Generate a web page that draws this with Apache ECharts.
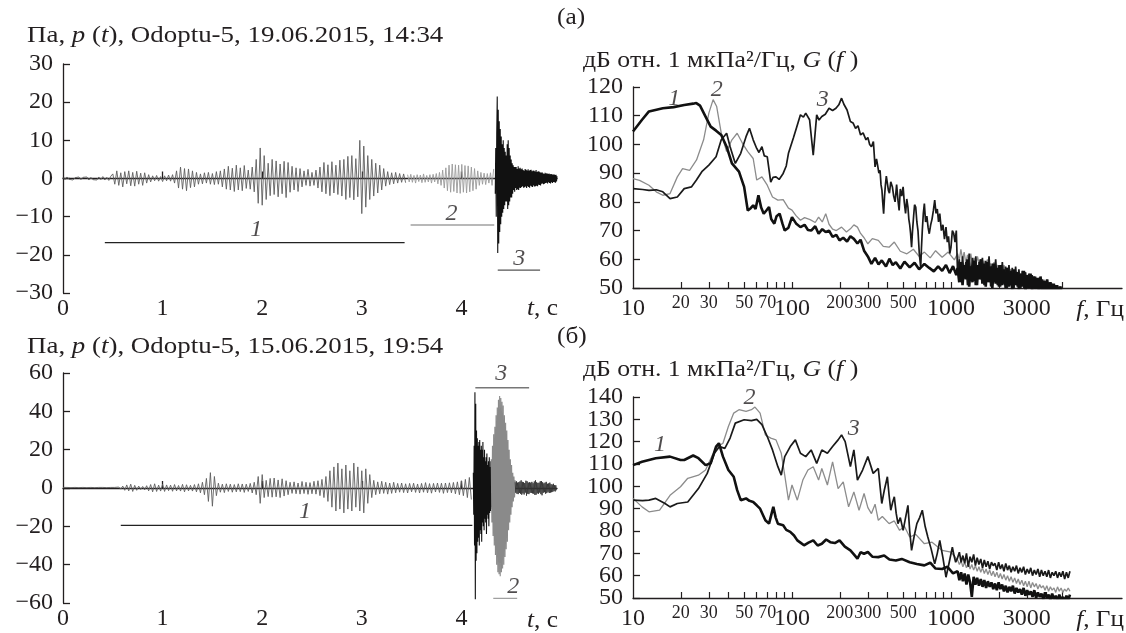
<!DOCTYPE html>
<html>
<head>
<meta charset="utf-8">
<script src="https://cdn.jsdelivr.net/npm/echarts@6/dist/echarts.min.js"></script>
<style>
html,body{margin:0;padding:0;background:#fff}
#chart{width:1126px;height:633px}
</style>
</head>
<body>
<div id="chart"></div>
<script>
// ---------- Waveforms p(t), Pa (sampled segments: start time, step, values) ----------
// (a) Odoptu-5, 19.06.2015, 14:34
const waveA1Start = 0, waveA1Step = 0.02;
const waveA1 = [
  0.3,-0.3,0.4,-0.2,0.3,-0.4,0.2,-0.3,0.4,-0.3,0.3,-0.2,0.4,-0.4,0.3,-0.3,0.2,-0.4,0.4,-0.3,0.5,-0.4,0.3,-0.5,0.6,
  1.2,-1.5,2.0,-1.8,1.5,-2.2,1.8,-1.4,2.0,-1.9,1.6,-2.0,1.9,-1.5,1.4,-1.8,1.5,-1.2,1.0,-0.9,
  0.7,-0.6,0.8,-0.7,0.5,-0.8,0.7,-0.6,0.9,-0.7,1.0,-1.2,
  2.0,-2.5,3.0,-2.8,2.6,-3.2,2.5,-2.4,2.0,-2.2,1.6,-1.5,1.2,
  -1.4,1.5,-1.2,1.6,-1.5,1.3,-1.6,1.8,-1.5,2.0,-2.2,
  2.5,-2.8,3.2,-3.0,2.7,-3.4,3.5,-3.0,2.8,-3.2,3.4,-2.6,2.2,-2.8,3.0,-3.5,
  5.0,-6.5,8.0,-7.0,6.0,-5.5,
  4.0,-4.5,5.0,-4.2,4.6,-4.8,3.8,-4.0,4.5,-5.0,4.2,-3.6,3.2,-3.0,2.8,-3.4,2.6,
  -2.2,2.0,-1.8,2.4,-2.0,1.6,-1.8,2.2,-2.5,
  3.0,-3.5,4.2,-4.0,3.6,-4.5,4.4,-3.8,3.5,-4.2,4.8,-4.6,5.0,
  -5.5,5.8,-5.0,6.0,-5.6,5.2,-4.8,
  10.0,-9.2,8.5,-7.5,
  6.0,-5.5,5.0,-4.6,4.0,-3.8,3.5,-3.0,2.6,
  -2.0,1.8,-1.6,1.5,-1.4,1.6,-1.2,1.3,-1.0,1.2,-1.1
];
const waveA2Start = 3.46, waveA2Step = 0.016;
const waveA2 = [
  1.0,-0.9,1.1,-1.0,0.8,-1.2,1.0,-0.8,0.9,-1.1,1.2,-1.0,0.8,-0.9,1.0,-1.2,1.1,-0.9,1.3,-1.4,1.6,-1.8,2.2,-2.5,
  2.8,-3.2,3.5,-3.6,3.8,-3.4,3.6,-3.8,3.5,-3.9,3.7,-3.6,3.4,-3.8,3.3,-3.5,3.0,-3.2,2.6,-2.8,
  2.0,-1.8,1.6,-1.5,1.4,-1.6,1.3,-1.2,1.5,-1.8,2.5
];
const waveA3Start = 4.34, waveA3Step = 0.005;
const waveA3 = [
  -4,8,-10,12,
  21.5,-19.5,18,-17,15,-14,13,-12,
  11,-10,9,-9,10,-8,8,-7,7,-6,6,-6,
  9,-8,10,-7,8,-6,6,-5,5,-5,4,-4,
  3.5,-3,3,-3.5,3,-2.5,3,-3,2.5,-2.8,3.2,-3,2.6,-2.4,2.8,-2.5,
  2.4,-2.2,2.6,-2.0,2.2,-2.4,2.0,-2.3,2.5,-2.1,2.3,-2.5,2.1,-2.0,2.4,-2.2,2.0,-2.4,2.2,-1.9,
  2.3,-2.1,1.9,-2.2,2.1,-1.8,2.0,-2.1,1.8,-2.0,2.2,-1.9,1.7,-2.0,1.9,-1.6,1.8,-1.7,1.6,-1.8,
  1.5,-1.4,1.6,-1.3,1.4,-1.5,1.2,-1.4,1.5,-1.2,1.3,-1.1,1.4,-1.3,1.2,-1.0,1.3,-1.2,1.1,-1.3,
  1.2,-1.0,1.1,-1.2,1.0,-0.9,1.1,-1.0,0.9,-1.1,1.0,-0.8,0.6
];
// (б) Odoptu-5, 15.06.2015, 19:54
const waveB1Start = 0, waveB1Step = 0.02;
const waveB1 = [
  0.3,-0.2,0.3,-0.3,0.2,-0.3,0.3,-0.2,0.2,-0.3,0.3,-0.3,0.2,-0.2,0.3,-0.3,0.2,-0.3,0.3,-0.2,0.3,-0.3,0.2,-0.3,0.3,-0.2,0.3,-0.4,0.5,-0.6,
  1.0,-1.2,1.6,-1.5,2.0,-1.8,1.4,-1.2,1.0,-0.8,0.8,-1.0,1.2,-1.5,1.8,-2.0,2.2,-1.8,1.5,-1.6,2.0,-1.8,1.6,-1.4,1.5,-1.7,1.8,-1.5,1.3,-1.6,1.9,-2.0,1.7,-1.5,1.4,-1.6,1.8,-2.0,2.2,-2.5,3.0,-3.5,
  5,-7,8,-9.5,6,-4,
  2.5,-2.2,2.0,-2.4,2.2,-1.8,2.0,-2.2,1.8,-2.0,2.2,-1.9,2.1,-2.3,2.0,-1.8,2.4,-2.6,3.0,-3.5,
  6,-8,7,-5,
  4,-4.5,5,-4.8,5.2,-4.6,4.2,-5,4.8,-4.2,3.8,-3.5,
  3,-2.8,3.2,-3.0,2.6,-3.2,3.4,-2.9,3.0,-3.3,2.8,-3.0,3.5,-3.2,3.8,-4.0,4.5,-5.0,6.0,-7.0,
  9,-10,11,-12,13,-11,10,-13,12,-11,9,-12,13,-10,11,-12,9,-13,10,-8,7,
  -5,4,-3.5,3.2,-3,3.5,-2.8,3,-3.2,2.6,-2.8,3,-2.5,2.4,
  -2.2,2.6,-2.4,2.2,-2.6,2.4,-2.0,2.5,-2.3,2.1,-2.6,2.4,-2.2,2.8,-2.5,2.3,-2.7,2.4,-2.1,2.6,
  -2.3,2.5,-2.8,2.6,-2.4,2.7,-2.5,2.9,-3.0,3.2,-3.5,3.8,-4.0,4.5,-5.0,5.5,-6.0
];
const waveB2Start = 4.12, waveB2Step = 0.004;
const waveB2 = [
  8,-14,22,-30,50,-58,44,-38,30,-34,26,-28,22,-26,24,
  -30,25,-22,20,-24,22,-28,20,-18,24,-20,16,-22,20,-16,14,-18,16,-24,18,
  -14,12,-16,14,-20,16,-13,11,-12,14,-10,9,-11,10,-8,9,-10,12,-14,16
];
const waveB3Start = 4.30, waveB3Step = 0.006;
const waveB3 = [
  15,-18,22,-25,28,-30,32,-35,38,-40,
  42,-44,46,-45,48,-46,47,-44,45,-42,43,-40,38,-36,34,-32,30,
  -28,25,-22,20,-18,15,-14,12,-10,8,-7,6,-5,4
];
const waveB4Start = 4.54, waveB4Step = 0.006;
const waveB4 = [
  3,-2.5,3.5,-3,2.8,-3.2,3,-2.6,3.4,-3,
  4,-3.5,3.2,-2.8,3,-3.4,2.6,-2.4,3.8,-4,
  3.5,-3,2.8,-3.2,3,-2.5,2.8,-2.6,3.2,-2.8,
  2.5,-3,3.4,-3.6,4,-3.5,3,-2.8,2.6,-3,
  2.8,-2.4,3.5,-3.2,3.6,-3.8,3,-2.5,2.4,-2.2,
  2.8,-3,3.2,-2.6,2.2,-2,2.4,-2.6,2.8,-2.4,
  2,-2.2,1.8,-2,2.2,-1.6,1.5,-1.8,1.4,-1.2
];

// Analysis intervals: [t start, t end, level], and their numbers: [text, t, level]
const intervalsA = [[0.42, 3.43, -16.8], [3.49, 4.33, -12.2], [4.365, 4.79, -24.0]];
const intervalLabelsA = [['1', 1.94, -13.4], ['2', 3.90, -9.2], ['3', 4.58, -21.0]];
const intervalsB = [[0.58, 4.11, -19.5], [4.32, 4.56, -57.6], [4.14, 4.68, 52.3]];
const intervalLabelsB = [['1', 2.43, -12.5], ['2', 4.52, -51.5], ['3', 4.40, 59.8]];

// ---------- Spectra G(f), dB re 1 µPa²/Hz ----------
// Low-frequency part: [f, dB]
const specA1 = [[10,104.5],[11.4,108.6],[12.6,111.5],[15.4,112.6],[18,113],[21,113.7],[23.9,114.2],[25,114.4],[26.4,113.5],[28.6,109.7],[30.8,106.2],[33.3,104.8],[35.9,103.3],[38.8,99.2],[41.9,93.4],[46.4,90.5],[50,85.2],[52.7,77],[55,77.8],[57,78.8],[59,77.5],[61.5,82.3],[64,78],[66.4,75.9],[69,77],[71.7,78.2],[74,74],[77.4,72.4],[80,75],[83.6,75.9],[87,72.5],[90,70],[95,71],[100,74.7],[106,72.5],[113,71.2],[120,72],[126,70.2],[132,70],[140,71.5],[147,68.9],[155,70.5],[163,69.5],[171,70],[180,67.8],[190,68.5],[199,66.6],[210,67.5],[222,66.2],[233,68],[245,67.1],[258,65.5],[270,66.8],[284,63],[300,61],[316,58.4],[333,60.5],[350,58.2],[367,59.6],[390,57.5],[410,60.2],[430,58],[450,59],[480,56.8],[510,59.2],[550,57.2],[590,58.8],[630,56.5],[680,58.4],[730,57],[780,55.8],[830,57.5],[880,56],[930,58],[980,55.2],[1030,57.6],[1080,54.5]];
const specA2 = [[10,88.1],[11,87.5],[12.6,85.8],[14,83.5],[15.4,82.3],[17.1,82.9],[19,88.7],[20.5,91.6],[22.7,91],[25.1,94.6],[27.8,101.6],[30,110.9],[31.9,115.6],[33.6,113.2],[35.9,103.9],[38.8,97.5],[41.9,101.6],[45.2,103.9],[48.8,100.4],[52.7,97.5],[57,95.1],[60,87.6],[64.7,88.7],[69.9,85.8],[75.4,81.7],[81.5,80.6],[88,80.8],[95,77.8],[100,77.1],[106,75.2],[113,73.6],[120,74.5],[130,73.8],[140,72.8],[147,74.7],[155,73],[163,75.9],[171,72.2],[180,70.5],[190,70],[205,71.2],[220,69.5],[233,70.6],[245,72],[258,71.2],[270,69],[284,67.5],[300,65.4],[320,67.2],[349,66.6],[375,64.5],[408,64.2],[440,66],[480,62.8],[528,61.9],[580,63.5],[630,61],[680,62.5],[740,60.5],[800,63],[880,60.7],[960,62.5],[1050,59.8]];
const specA3 = [[10,84.6],[11.5,84.3],[12.6,84],[14,84.2],[15.4,83.5],[17.1,81.1],[19,81.7],[21,84.6],[23.3,85.2],[25,87.5],[27.1,90.5],[30,92.8],[33.3,95.7],[35.9,101.6],[38.8,103.9],[40.8,99.2],[44,93.4],[47.6,96.9],[51.4,102.7],[54,105.6],[57,101.6],[60,98.6],[62,97.2],[64.7,99.2],[67,96],[69.9,95.7],[73.5,86.9],[76,88.5],[79.3,88.7],[83,87.8],[88,89.9],[92,92.5],[95,96.9],[102,102.2],[107,106],[113,110.3],[118,109.5],[122,110.9],[129,108.6],[136,96.3],[143,110.3],[148,108.5],[154,109.7],[162,110.5],[171,112.6],[180,111.8],[189,112.6],[197,113.8],[205,116.1],[212,114],[222,112],[233,108],[242,107.5],[251,105.6],[260,106.5],[270,103.3],[280,104],[292,101.6],[300,102.4],[308,100],[316,99.2],[325,101],[333,92.2],[340,95],[345,93],[352,90],[358,91],[363,86],[368,84],[372,80],[377,75.9],[382,82],[387,86],[392,89],[398,88.7],[404,84],[410,83],[418,87],[428,85.2],[436,82],[445,80],[455,86],[464,80.6],[472,77],[480,84.5],[490,82],[500,85.2],[508,80],[518,76],[527,81],[536,78.2],[543,74],[550,72],[557,69],[565,64.2],[573,70],[582,75],[590,79],[600,78.2],[610,73],[620,70],[632,62],[645,57.2],[652,64],[660,70],[670,76],[680,79.4],[692,73],[705,75],[718,71],[730,68.9],[745,72],[760,74],[775,77],[790,80.6],[805,76],[820,77.5],[835,73],[850,75.9],[870,70],[890,72],[910,67],[930,71.2],[948,66],[965,68],[983,62],[1000,64.2],[1020,70],[1040,69],[1060,66],[1080,70]];
const specB1 = [[10,109.5],[11.4,111],[13.9,112.6],[17.1,113.3],[19.9,111.8],[21,111.8],[23.9,113.8],[25.8,112.6],[28.6,109.5],[30.8,110.3],[33.3,117.8],[34.7,119.3],[36.8,113.3],[39.8,107.3],[43,104.3],[45.2,98.3],[47.6,93.8],[51.4,94.6],[54,93.5],[57,93],[60,91.5],[63,90],[68,84.8],[71.7,83.3],[76.3,90.8],[79,86],[81.5,83.3],[88,82.6],[92,80.5],[97.5,79.6],[103,78],[108,75.8],[113,74.8],[119,73.6],[127,74.8],[136,75.8],[145,73.5],[154,74.3],[164,76.2],[174,75],[186,74.6],[199,75.8],[215,73],[233,71.3],[245,69.5],[258,67.6],[270,70.5],[284,69.8],[300,70.6],[320,68.5],[349,68.3],[380,69],[410,67.2],[450,66.8],[490,67.5],[550,66],[610,65.2],[680,64.6],[740,65.8],[800,63.2],[880,63],[950,64],[1030,61]];
const specB2 = [[10,94.6],[11.4,90.8],[12.6,88.6],[14.7,89.3],[17.1,96],[19.9,99.8],[22.1,103.6],[25.8,105],[28.6,107.3],[31.6,114],[34.1,117.8],[36.8,119.3],[39.8,126.8],[43,132.8],[46.4,134.3],[51.4,133.6],[55.6,134.3],[58.5,135.5],[63,132.8],[68,123],[73.5,121.6],[79.3,120.8],[85.6,114.8],[90,105],[95,93.8],[100,100.6],[108,93.8],[117,102.8],[126,107.3],[136,108.8],[147,102.8],[154,108],[167,100.6],[180,111],[195,99],[210,102],[227,90.8],[245,97.5],[264,89.3],[284,96.8],[300,90.5],[316,87.8],[333,92],[349,84.8],[370,86.5],[408,83.3],[440,84.5],[475,80.3],[510,82],[550,77.3],[600,78.5],[680,74.3],[760,75],[880,71.3],[1000,70.5]];
const specB3 = [[10,93.8],[11.5,93.6],[12.6,93.8],[13.9,94.6],[15.9,92.3],[17.1,90.8],[19,92.3],[22.1,93],[25.8,99],[29.3,105.8],[32.5,114.8],[35,117.8],[37.8,117],[40.8,121.6],[44,128.3],[50,129.8],[55.6,129.4],[60,130],[64.7,127.6],[69.9,122.3],[75.4,116.3],[81.5,108.8],[85.6,105],[90,113.3],[97.5,117.8],[105,120.8],[113,114.8],[122,113.3],[132,116.3],[143,110.3],[154,116.3],[167,114.8],[180,117.8],[195,120.8],[205,123],[216,120],[233,108.8],[245,116.3],[258,102.8],[278,107.3],[300,113.3],[324,105.8],[349,108],[358,100],[367,92.3],[380,98],[398,104.3],[408,96],[418,89.3],[430,93],[440,95.3],[452,88],[464,83.3],[480,86],[500,80.3],[518,86],[536,91.5],[550,80],[565,71.3],[588,78],[610,83.3],[635,86],[660,89.3],[688,82],[715,77.3],[750,72],[790,65.3],[820,70],[850,75.8],[890,68],[930,59.3],[975,66],[1020,72.8],[1045,69],[1070,66]];

// High-frequency part: frequency bins and dB values per curve
const hfFreqA = [1100,1127,1154,1182,1210,1240,1270,1301,1332,1365,1398,1432,1467,1502,1539,1576,1614,1654,1694,1735,1777,1820,1865,1910,1956,2004,2053,2103,2154,2206,2260,2315,2371,2429,2488,2549,2611,2674,2739,2806,2874,2944,3016,3089,3164,3241,3320,3401,3484,3569,3655,3744,3835,3929,4024,4122,4223,4325,4431,4538,4649,4762,4878,4997];
const hfA1 = [57,52,59,51,58,53,60,50.5,57.5,52,59.5,51,58,53, 60,51.5,58.5,50.5,59,52,57.5,50,58.5,51.5,57,50.5,58,51,56.5,50, 57,50.5,56,49.5,56.5,51,55.5,49.5,55,50.5,56,49,54.5,50,55,49, 54,49.5,53.5,48.5,54,49,52.5,48,53,48.5,52,47.5,51.5,48,51,47,50.5,47];
const hfA2 = [62,59.5,63.5,60,62.5,58.5,61.5,59,62,58,60.5,57.5,61,58.5, 60,57,59.5,56.5,60,57,58.5,56,59,55.5,58,56,57.5,55,58,55.5, 57,54.5,56.5,55,56,53.5,55.5,54,55,53,55.5,52.5,54.5,53,54,52, 53.5,51.5,53,52,52.5,51,53,50.5,52,51,51.5,50,51,50.5,50.5,49.5,50.5,49];
const hfA3 = [55,60,52,61,54,59,51,62,53,60.5,52.5,61,51,59, 53,60.5,51,59.5,52,61,50.5,58.5,52,60,51,58,50.5,59,51.5,57.5, 50,58,51,57,49.5,57.5,50.5,56.5,49,56,50,55.5,49,55,49.5,54.5, 48.5,54,49,53.5,48,53,48.5,52.5,47.5,52,48,51.5,47.5,51,47,50.5,47,49];
const hfFreqB = [1100,1129,1158,1188,1219,1251,1284,1318,1352,1388,1424,1461,1499,1539,1579,1620,1663,1706,1751,1797,1844,1892,1942,1993,2045,2098,2153,2210,2268,2327,2388,2451,2515,2581,2648,2718,2789,2862,2937,3014,3093,3174,3257,3342,3430,3520,3612,3706,3803,3903,4005,4110,4218,4328,4442,4558,4677,4800,4925,5054,5187,5322,5462,5600];
const hfB1 = [62,58,61.5,57.5,61,56,60.5,57,50.5,59.5,56,59,55.5,58.5,55,58, 54.5,57.5,55,57,54,56.5,53.5,57,54,56,53,55.5,52.5,55,53,55.5, 52,54.5,52.5,54,51.5,54.5,51,53.5,51.5,53,50.5,53.5,50,52.5,50.5,52, 49.5,52.5,50,51.5,49,52,49.5,51,48.5,51.5,49,50.5,48.5,51,49,51.5];
const hfB2 = [67,65,66.5,64,66,63.5,65.5,63,65,62.5,64.5,62,64,61.5,63.5,61, 63,60.5,62.5,60,62,59.5,61.5,59,61,58.5,60.5,58,60,57.5,59.5,57, 59,56.5,58.5,56,58,55.5,57.5,55,57.5,54.5,57,55,56.5,54,56,54.5, 55.5,53.5,55.5,53,55,53.5,54.5,52.5,55,53,54.5,52.5,54,53,54.5,53];
const hfB3 = [68,70.5,66,69,65.5,70,64,68.5,66,69.5,64.5,68,65,67.5,63.5,67, 64,66.5,63,66,64.5,65.5,62.5,66,63,65,62,65.5,62.5,64.5,61.5,64, 62,64.5,61,63.5,61.5,64,60.5,63,61,63.5,60,62.5,60.5,63,59.5,62.5, 60,62,59.5,62.5,59,61.5,60,62,59,61.5,59.5,62,58.5,61.5,59,62];

const specLabelsA = [['1', 18.2, 116.1], ['2', 33.6, 119.0], ['3', 156, 115.6]];
const specLabelsB = [['1', 14.8, 118.5], ['2', 54, 139.5], ['3', 245, 126.0]];

// ---------- Axis ticks and labels ----------
const timeLabels = [0, 1, 2, 3, 4];
const timeTicks = [1, 2, 3, 4];
const freqMajorLabels = [10, 100, 1000, 3000];
const freqMinorLabels = [20, 30, 50, 70, 200, 300, 500];
const freqTicks = [20, 30, 40, 50, 60, 70, 80, 90, 100, 200, 300, 400, 500, 600, 700, 800, 900, 1000, 2000, 3000, 4000, 5000];
// level labels of spectrum (б), split in two interleaved sets
const levelLabelsB1 = [50, 70, 90, 110, 130];
const levelLabelsB2 = [60, 80, 100, 120, 140];

const titleA = 'Odoptu-5, 19.06.2015, 14:34';
const titleB = 'Odoptu-5, 15.06.2015, 19:54';

// ---------- Drawing ----------
const FONT = 'Liberation Serif';
const INK = '#231f20';
const chart = echarts.init(document.getElementById('chart'), null, { renderer: 'canvas' });

function wave(start, step, vals) {
  return vals.map((v, i) => [+(start + i * step).toFixed(4), v]);
}
function withHigh(low, freqs, vals) {
  return low.concat(vals.map((v, i) => [freqs[i], v]));
}
const minus = v => String(v).replace('-', '\u2212');

function timeAxis(gridIndex) {
  return {
    type: 'value', gridIndex, min: 0, max: 4.96,
    axisLine: { lineStyle: { color: INK, width: 1.3 } },
    axisTick: { inside: true, length: 7, customValues: timeTicks, lineStyle: { color: INK, width: 1.3 } },
    axisLabel: { customValues: timeLabels, margin: 4, color: INK, fontFamily: FONT, fontSize: 24, hideOverlap: false },
    splitLine: { show: false }
  };
}
function freqAxis(gridIndex) {
  return {
    type: 'log', logBase: 10, gridIndex, min: 10, max: 11900, position: 'bottom',
    axisLine: { lineStyle: { color: INK, width: 1.3 } },
    axisTick: { inside: true, length: 6, customValues: freqTicks, lineStyle: { color: INK, width: 1.2 } },
    axisLabel: { customValues: freqMajorLabels, margin: 9, color: INK, fontFamily: FONT, fontSize: 24,
      formatter: v => String(v), hideOverlap: false },
    splitLine: { show: false }, minorTick: { show: false }
  };
}
function freqMinorAxis(gridIndex) {
  return {
    type: 'log', logBase: 10, gridIndex, min: 10, max: 11900, position: 'bottom', offset: 0,
    axisLine: { show: false }, axisTick: { show: false },
    axisLabel: { customValues: freqMinorLabels, margin: 6, color: INK, fontFamily: FONT, fontSize: 18,
      formatter: v => String(v), hideOverlap: false },
    splitLine: { show: false }
  };
}
function valAxis(gridIndex, min, max, interval, labels) {
  const label = { margin: 10, color: INK, fontFamily: FONT, fontSize: 24, formatter: minus, hideOverlap: false };
  if (labels) label.customValues = labels;
  return {
    type: 'value', gridIndex, min, max, interval,
    axisLine: { show: true, lineStyle: { color: INK, width: 1.3 } },
    axisTick: { show: true, inside: true, length: 7, lineStyle: { color: INK, width: 1.3 } },
    axisLabel: label,
    splitLine: { show: false }
  };
}
function labelOnlyAxis(gridIndex, min, max, labels) {
  return {
    type: 'value', gridIndex, min, max, position: 'left', offset: 0,
    axisLine: { show: false }, axisTick: { show: false },
    axisLabel: { customValues: labels, margin: 10, color: INK, fontFamily: FONT, fontSize: 24, hideOverlap: false },
    splitLine: { show: false }
  };
}
function line(xi, yi, data, color, width) {
  return {
    type: 'line', xAxisIndex: xi, yAxisIndex: yi, data, symbol: 'none', showSymbol: false,
    lineStyle: { color, width }, clip: true, animation: false, silent: true, z: 2
  };
}
function numberLabels(xi, yi, list) {
  return {
    type: 'scatter', xAxisIndex: xi, yAxisIndex: yi, symbolSize: 0, silent: true, animation: false, z: 5,
    data: list.map(d => ({ name: d[0], value: [d[1], d[2]] })),
    label: { show: true, position: 'inside', formatter: p => p.name, color: INK,
      fontFamily: FONT, fontStyle: 'italic', fontSize: 24 }
  };
}
function intervalLines(xi, yi, list, colors) {
  return list.map((d, i) => line(xi, yi, [[d[0], d[2]], [d[1], d[2]]], colors[i], 1.4));
}

const series = [
  line(0, 0, wave(waveA1Start, waveA1Step, waveA1), '#5e5e5e', 0.9),
  line(0, 0, wave(waveA2Start, waveA2Step, waveA2), '#9a9a9a', 0.9),
  line(0, 0, wave(waveA3Start, waveA3Step, waveA3), '#111', 1.1),
  ...intervalLines(0, 0, intervalsA, ['#222', '#a0a0a0', '#555']),
  numberLabels(0, 0, intervalLabelsA),

  line(1, 1, wave(waveB1Start, waveB1Step, waveB1), '#5e5e5e', 0.9),
  line(1, 1, wave(waveB2Start, waveB2Step, waveB2), '#111', 1.1),
  line(1, 1, wave(waveB3Start, waveB3Step, waveB3), '#8a8a8a', 1.1),
  line(1, 1, wave(waveB4Start, waveB4Step, waveB4), '#333', 0.9),
  ...intervalLines(1, 1, intervalsB, ['#222', '#a0a0a0', '#777']),
  numberLabels(1, 1, intervalLabelsB),

  line(2, 2, withHigh(specA2, hfFreqA, hfA2), '#8c8c8c', 1.3),
  line(2, 2, withHigh(specA3, hfFreqA, hfA3), '#1a1a1a', 1.7),
  line(2, 2, withHigh(specA1, hfFreqA, hfA1), '#111', 2.6),
  numberLabels(2, 2, specLabelsA),

  line(3, 3, withHigh(specB2, hfFreqB, hfB2), '#8c8c8c', 1.3),
  line(3, 3, withHigh(specB3, hfFreqB, hfB3), '#1a1a1a', 1.7),
  line(3, 3, withHigh(specB1, hfFreqB, hfB1), '#111', 2.6),
  numberLabels(3, 3, specLabelsB)
];

const base = { fontFamily: FONT, fontSize: 23, fill: INK };
const rich = {
  n: { fontFamily: FONT, fontSize: 23, color: INK },
  i: { fontFamily: FONT, fontSize: 23, fontStyle: 'italic', color: INK }
};
function titleText(x, y, text, sx) {
  return { type: 'text', x, y, scaleX: sx || 1, silent: true,
    style: Object.assign({ text, verticalAlign: 'middle', rich }, base) };
}
const waveTitle = s => '{n|Па, }{i|p}{n| (}{i|t}{n|), ' + s + '}';
const specTitle = '{n|дБ отн. 1 мкПа²/Гц, }{i|G}{n| (}{i|f}{n| )}';
const axisName = (x, y, sym, unit) => ({
  type: 'text', x, y, scaleX: 1.1, silent: true,
  style: Object.assign({ text: '{i|' + sym + '}{n|, ' + unit + '}', align: 'right', verticalAlign: 'middle', rich }, base)
});

chart.setOption({
  backgroundColor: '#fff',
  animation: false,
  grid: [
    { left: 63, top: 64, width: 494, height: 229, outerBoundsMode: 'none' },
    { left: 63, top: 373, width: 494, height: 230, outerBoundsMode: 'none' },
    { left: 633, top: 87, width: 489, height: 201, outerBoundsMode: 'none' },
    { left: 633, top: 397, width: 489, height: 201, outerBoundsMode: 'none' }
  ],
  xAxis: [timeAxis(0), timeAxis(1), freqAxis(2), freqAxis(3), freqMinorAxis(2), freqMinorAxis(3)],
  yAxis: [
    valAxis(0, -30, 30, 10), valAxis(1, -60, 60, 20), valAxis(2, 50, 120, 10),
    valAxis(3, 50, 140, 10, levelLabelsB1), labelOnlyAxis(3, 50, 140, levelLabelsB2)
  ],
  series,
  graphic: [
    titleText(27, 36, waveTitle(titleA), 1.17),
    titleText(27, 347, waveTitle(titleB), 1.17),
    titleText(583, 61, specTitle, 1.12),
    titleText(583, 370, specTitle, 1.12),
    titleText(557, 18, '{n|(а)}', 1.1),
    titleText(557, 337, '{n|(б)}', 1.1),
    axisName(558, 309, 't', 'с'),
    axisName(558, 621, 't', 'с'),
    axisName(1124, 310, 'f', 'Гц'),
    axisName(1124, 620, 'f', 'Гц')
  ]
});
</script>
</body>
</html>
